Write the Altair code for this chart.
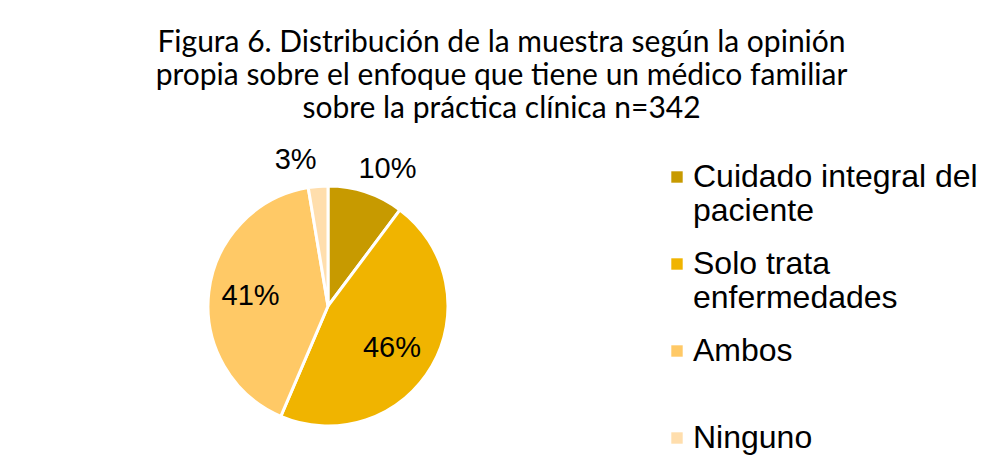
import altair as alt
import pandas as pd

categorias = ["Cuidado integral del paciente", "Solo trata enfermedades", "Ambos", "Ninguno"]
conteos = [35, 158, 140, 9]
etiquetas = ["10%", "46%", "41%", "3%"]
colores = ["#C79A00", "#F0B400", "#FFC966", "#FFDEAD"]

df = pd.DataFrame({"cat": categorias, "n": conteos, "lbl": etiquetas, "ord": list(range(len(categorias)))})
total = sum(conteos)

label_expr = (
    "datum.label == 'Cuidado integral del paciente' ? ['Cuidado integral del', 'paciente'] : "
    "datum.label == 'Solo trata enfermedades' ? ['Solo trata', 'enfermedades'] : "
    "datum.label == 'Ambos' ? ['Ambos', ' '] : datum.label"
)

CX, CY = 320, 175
TAU = 6.283185307179586

base = alt.Chart(df).transform_window(
    cum="sum(n)", sort=[alt.SortField("ord")], frame=[None, 0]
).transform_calculate(
    start="datum.cum - datum.n", mid="datum.cum - datum.n / 2"
)

pie = base.mark_arc(outerRadius=120, stroke="white", strokeWidth=3).encode(
    theta=alt.Theta("start:Q", scale=alt.Scale(domain=[0, total], range=[0, TAU])),
    theta2="cum:Q",
    x=alt.value(CX),
    y=alt.value(CY),
    color=alt.Color(
        "cat:N",
        sort=categorias,
        scale=alt.Scale(domain=categorias, range=colores),
        legend=alt.Legend(
            orient="none", legendX=653, legendY=30, title=None,
            symbolType="square", symbolSize=130, symbolStrokeWidth=0,
            labelFontSize=32, labelFont="Liberation Sans", labelColor="#000000",
            labelLimit=400, rowPadding=21, labelExpr=label_expr, labelOffset=0,
        ),
    ),
)

def etiqueta(cat, radius, dx, dy):
    return base.transform_filter(alt.datum.cat == cat).mark_text(
        fontSize=29, font="Liberation Sans", color="#000000", radius=radius, dx=dx, dy=dy
    ).encode(
        theta=alt.Theta("mid:Q", scale=alt.Scale(domain=[0, total], range=[0, TAU])),
        x=alt.value(CX),
        y=alt.value(CY),
        text="lbl:N",
    )

layers = [
    pie,
    etiqueta(categorias[0], 150, 12, 5),
    etiqueta(categorias[1], 75, -1, 4),
    etiqueta(categorias[2], 78, 0, -1),
    etiqueta(categorias[3], 150, -20, 3),
]

chart = alt.layer(*layers).properties(
    width=987, height=459,
    autosize=alt.AutoSizeParams(type="fit", contains="padding"),
    padding={"top": 20, "left": 0, "right": 0, "bottom": 0},
    background="white",
    title=alt.TitleParams(
        text=["Figura 6. Distribución de la muestra según la opinión",
              "propia sobre el enfoque que tiene un médico familiar",
              "sobre la práctica clínica n=342"],
        fontSize=30, font="Lato", fontWeight="normal", color="#000000",
        anchor="middle", offset=7, lineHeight=33,
    ),
).configure_view(stroke=None)

chart.save("out.html", embed_options={"renderer": "svg", "actions": False})
